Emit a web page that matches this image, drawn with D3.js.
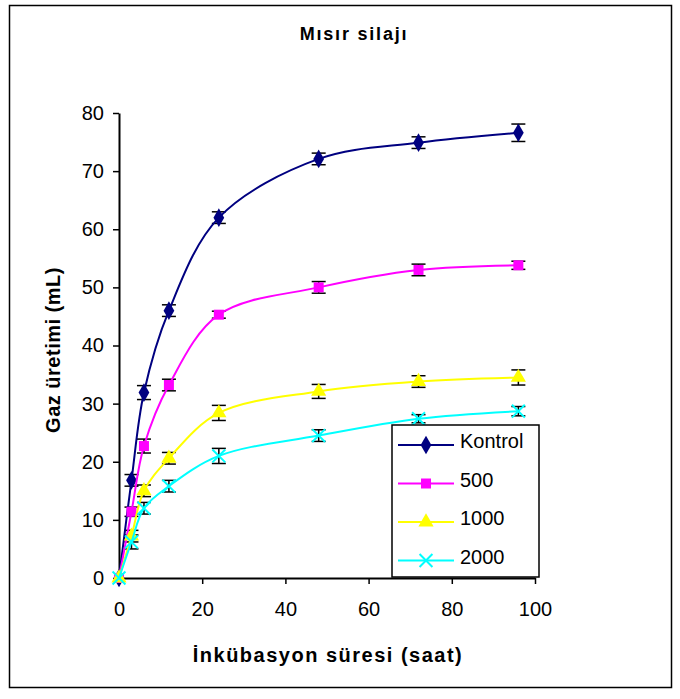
<!DOCTYPE html>
<html>
<head>
  <meta charset="utf-8">
  <style>
    body { margin: 0; background: #fff; }
    text { font-family: "Liberation Sans", Arial, sans-serif; }
  </style>
</head>
<body>
  <script src="https://cdn.jsdelivr.net/npm/d3@7/dist/d3.min.js"></script>
  <script>
    // data
    const hours = [0, 3, 6, 12, 24, 48, 72, 96];
    const seriesNames = ["Kontrol", "500", "1000", "2000"];
    const kontrol = [0, 16.8, 31.9, 46.0, 62.0, 72.1, 74.9, 76.6];
    const d500 = [0, 11.4, 22.7, 33.2, 45.3, 50.0, 53.0, 53.8];
    const d1000 = [0, 7.2, 15.0, 20.6, 28.4, 32.1, 33.8, 34.5];
    const d2000 = [0, 6.2, 12.0, 15.8, 21.0, 24.5, 27.4, 28.7];
    const errKontrol = [0, 1.0, 1.2, 1.0, 1.0, 1.0, 1.0, 1.5];
    const err500 = [0, 0.8, 1.2, 1.0, 0.6, 1.0, 1.0, 0.7];
    const err1000 = [0, 1.0, 1.0, 1.0, 1.3, 1.2, 1.0, 1.3];
    const err2000 = [0, 1.2, 1.0, 1.0, 1.3, 1.0, 0.7, 0.8];
    const xTicks = [0, 20, 40, 60, 80, 100];
    const yTicks = [0, 10, 20, 30, 40, 50, 60, 70, 80];

    const W = 680, H = 699;
    const series = [
      { name: seriesNames[0], vals: kontrol, err: errKontrol, color: "#000080", sym: "diamond" },
      { name: seriesNames[1], vals: d500, err: err500, color: "#ff00ff", sym: "square" },
      { name: seriesNames[2], vals: d1000, err: err1000, color: "#ffff00", sym: "triangle" },
      { name: seriesNames[3], vals: d2000, err: err2000, color: "#00ffff", sym: "x" }
    ];

    const svg = d3.select("body").append("svg")
      .attr("width", W).attr("height", H);

    // outer frame
    svg.append("rect")
      .attr("x", 9.5).attr("y", 5.5)
      .attr("width", 662).attr("height", 682)
      .attr("fill", "#fff").attr("stroke", "#000").attr("stroke-width", 1.5);

    const x = d3.scaleLinear().domain([0, 100]).range([119, 535]);
    const y = d3.scaleLinear().domain([0, 80]).range([578, 113]);

    // title
    svg.append("text")
      .attr("x", 354).attr("y", 40)
      .attr("text-anchor", "middle")
      .attr("font-size", 18).attr("font-weight", "bold")
      .attr("letter-spacing", 1.8)
      .text("Mısır silajı");

    // axes
    const xAxis = d3.axisBottom(x).tickValues(xTicks).tickSize(6).tickSizeOuter(0);
    const yAxis = d3.axisLeft(y).tickValues(yTicks).tickSize(6).tickSizeOuter(0);

    const gx = svg.append("g").attr("transform", `translate(0,${y(0)})`).call(xAxis);
    const gy = svg.append("g").attr("transform", `translate(${x(0)},0)`).call(yAxis);
    [gx, gy].forEach(g => {
      g.select(".domain").attr("stroke-width", 2);
      g.selectAll(".tick line").attr("stroke-width", 1.5);
      g.selectAll("text").attr("font-size", 20).attr("font-family", "Liberation Sans, Arial, sans-serif").attr("fill", "#000");
    });
    gx.selectAll("text").attr("y", 24);
    gy.selectAll("text").attr("x", -15);

    // axis titles
    svg.append("text")
      .attr("x", 328).attr("y", 662)
      .attr("text-anchor", "middle")
      .attr("font-size", 20).attr("font-weight", "bold")
      .attr("letter-spacing", 1.5)
      .text("İnkübasyon süresi (saat)");

    svg.append("text")
      .attr("transform", `translate(60,${350}) rotate(-90)`)
      .attr("text-anchor", "middle")
      .attr("font-size", 20).attr("font-weight", "bold")
      .attr("letter-spacing", 0.5)
      .text("Gaz üretimi (mL)");

    const symbols = {
      diamond: d3.symbol().type(d3.symbolDiamond).size(100),
      square: d3.symbol().type(d3.symbolSquare).size(100),
      triangle: d3.symbol().type(d3.symbolTriangle).size(100),
      x: d3.symbol().type(d3.symbolTimes).size(110)
    };

    function drawMarker(g, s, cx, cy) {
      const p = g.append("path")
        .attr("d", symbols[s.sym]())
        .attr("transform", `translate(${cx},${cy})`);
      if (s.sym === "x") {
        p.attr("fill", "none").attr("stroke", s.color).attr("stroke-width", 2);
      } else {
        p.attr("fill", s.color).attr("stroke", "none");
      }
    }

    const line = d3.line()
      .x(d => x(d[0])).y(d => y(d[1]))
      .curve(d3.curveCatmullRom.alpha(0.5));

    // error bars
    const eg = svg.append("g");
    series.forEach(s => {
      hours.forEach((h, i) => {
        if (s.err[i] <= 0) return;
        const cx = x(h), y1 = y(s.vals[i] + s.err[i]), y2 = y(s.vals[i] - s.err[i]);
        eg.append("line").attr("x1", cx).attr("x2", cx).attr("y1", y1).attr("y2", y2)
          .attr("stroke", "#000").attr("stroke-width", 1.5);
        [y1, y2].forEach(yy => {
          eg.append("line").attr("x1", cx - 7).attr("x2", cx + 7).attr("y1", yy).attr("y2", yy)
            .attr("stroke", "#000").attr("stroke-width", 1.5);
        });
      });
    });

    // lines and markers
    series.forEach(s => {
      const pts = hours.map((h, i) => [h, s.vals[i]]);
      svg.append("path")
        .attr("d", line(pts))
        .attr("fill", "none")
        .attr("stroke", s.color)
        .attr("stroke-width", 2);
      const mg = svg.append("g");
      pts.forEach(p => drawMarker(mg, s, x(p[0]), y(p[1])));
    });

    // legend
    const lg = svg.append("g");
    lg.append("rect")
      .attr("x", 392).attr("y", 425)
      .attr("width", 147).attr("height", 152)
      .attr("fill", "#fff").attr("stroke", "#000").attr("stroke-width", 1.5);
    series.forEach((s, i) => {
      const ly = 445 + i * 38.5;
      lg.append("line").attr("x1", 398).attr("x2", 454).attr("y1", ly).attr("y2", ly)
        .attr("stroke", s.color).attr("stroke-width", 2);
      drawMarker(lg, s, 426, ly);
      lg.append("text").attr("x", 460).attr("y", ly + 3)
        .attr("font-size", 20).text(s.name);
    });
  </script>
</body>
</html>
